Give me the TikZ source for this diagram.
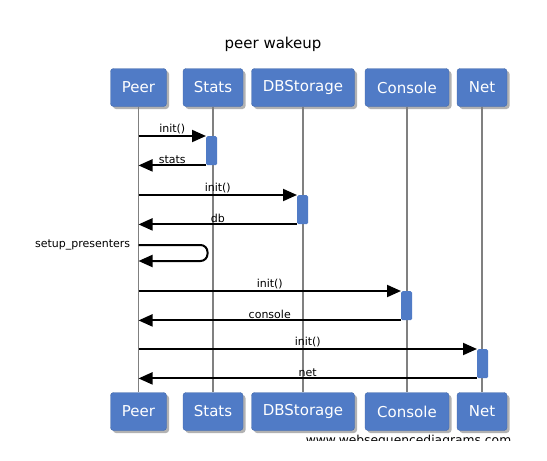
\documentclass[tikz,border=0pt]{standalone}
\usepackage{fontspec}
\setmainfont{DejaVu Sans}
\usetikzlibrary{arrows.meta,shadows}
\definecolor{boxblue}{RGB}{80,123,198}

\tikzset{
  actor/.style={draw=boxblue!85!black, fill=boxblue, rounded corners=3pt, text=white,
    font=\fontsize{15}{18}\selectfont, minimum height=38pt, inner sep=0pt,
    drop shadow={shadow xshift=2.5pt, shadow yshift=-2.5pt, fill=black!60}},
  life/.style={draw=black!50, line width=1.8pt},
  act/.style={fill=boxblue, rounded corners=1.5pt, minimum width=11pt, minimum height=29pt,
    inner sep=0pt, anchor=north west},
  msg/.style={draw=black, line width=2pt, -{Triangle[length=14pt,width=12pt]}},
  lbl/.style={font=\fontsize{11}{13}\selectfont, inner sep=1pt, above}
}

\begin{document}
\begin{tikzpicture}[x=1pt,y=-1pt]
  \useasboundingbox (0,0) rectangle (547,461);

  \node[font=\fontsize{15}{18}\selectfont] (title) at (273,44) {peer wakeup};

  % actors, top and bottom
  \node[actor, minimum width=56pt]  (peer)  at (138.5,87.5)  {Peer};
  \node[actor, minimum width=60pt]  (stats) at (213,87.5)    {Stats};
  \node[actor, minimum width=103pt] (db)    at (303,87.5)    {DBStorage};
  \node[actor, minimum width=84pt]  (con)   at (407,87.5)    {Console};
  \node[actor, minimum width=50pt]  (net)   at (482,87.5)    {Net};

  \node[actor, minimum width=56pt]  (peerb)  at (138.5,411.5) {Peer};
  \node[actor, minimum width=60pt]  (statsb) at (213,411.5)   {Stats};
  \node[actor, minimum width=103pt] (dbb)    at (303,411.5)   {DBStorage};
  \node[actor, minimum width=84pt]  (conb)   at (407,411.5)   {Console};
  \node[actor, minimum width=50pt]  (netb)   at (482,411.5)   {Net};

  % lifelines
  \draw[life] (peer.south)  -- (peerb.north);
  \draw[life] (stats.south) -- (statsb.north);
  \draw[life] (db.south)    -- (dbb.north);
  \draw[life] (con.south)   -- (conb.north);
  \draw[life] (net.south)   -- (netb.north);

  % activations
  \node[act] (a1) at (206,136) {};
  \node[act] (a2) at (297,195) {};
  \node[act] (a3) at (401,291) {};
  \node[act] (a4) at (477,349) {};

  % messages
  \draw[msg] (peer |- a1.north west) -- node[lbl] {init()} (a1.north west);
  \draw[msg] (a1.south west) -- node[lbl] {stats} (peer |- a1.south west);

  \draw[msg] (peer |- a2.north west) -- node[lbl] {init()} (a2.north west);
  \draw[msg] (a2.south west) -- node[lbl] {db} (peer |- a2.south west);

  \coordinate (sp)  at (138.5,245);
  \coordinate (sp2) at (138.5,261);
  \draw[msg, rounded corners=7pt] (sp) node[left=4pt, font=\fontsize{11}{13}\selectfont] {setup\_presenters}
    -- ++(69,0) -- ++(0,16) -- (sp2);

  \draw[msg] (peer |- a3.north west) -- node[lbl] {init()} (a3.north west);
  \draw[msg] (a3.south west) -- node[lbl] {console} (peer |- a3.south west);

  \draw[msg] (peer |- a4.north west) -- node[lbl] {init()} (a4.north west);
  \draw[msg] (a4.south west) -- node[lbl] {net} (peer |- a4.south west);

  % watermark, cut at the bottom
  \begin{scope}
    \clip (300,425) rectangle (520,440);
    \node[font=\fontsize{12.3}{14}\selectfont, anchor=base] (wm) at (408.5,444) {www.websequencediagrams.com};
  \end{scope}
\end{tikzpicture}
\end{document}
